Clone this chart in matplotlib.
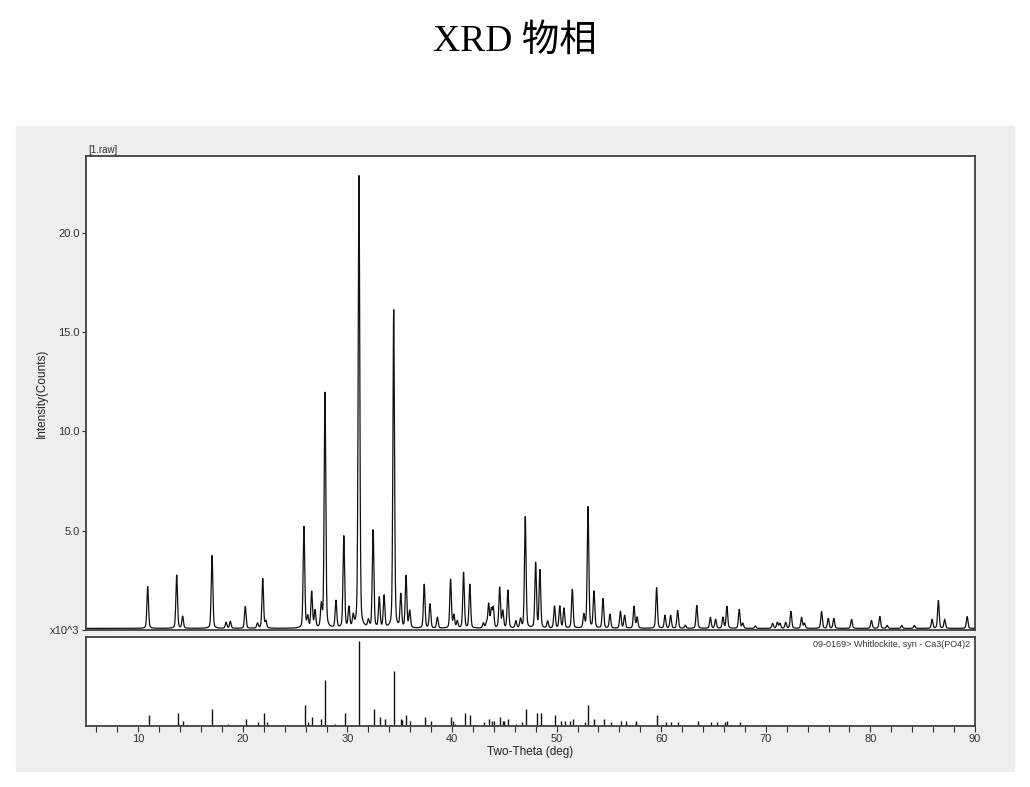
import numpy as np
import matplotlib
matplotlib.use("Agg")
import matplotlib.pyplot as plt
from matplotlib.patches import Rectangle
from matplotlib.ticker import MultipleLocator

plt.rcParams['font.family'] = ['Liberation Sans', 'DejaVu Sans']

# measured pattern: peak positions (2-theta) and peak heights (x10^3 counts)
peak_pos = [10.9, 13.67, 14.24, 17.05, 18.4, 18.8, 20.23, 21.4, 21.9, 22.2,
            25.84, 26.2, 26.58, 26.9, 27.5, 27.85, 28.9, 29.65, 30.14, 30.55,
            31.1, 32.0, 32.45, 33.04, 33.5, 34.42, 35.1, 35.6, 35.95, 37.34,
            37.89, 38.6, 39.86, 40.18, 40.5, 41.1, 41.7, 43.0, 43.3, 43.5,
            43.75, 43.94, 44.55, 44.85, 45.34, 46.1, 46.55, 47.0, 47.99, 48.4,
            49.14, 49.8, 50.3, 50.7, 51.5, 52.6, 53.0, 53.57, 54.43, 55.1,
            56.1, 56.5, 57.4, 57.7, 59.56, 60.36, 60.9, 61.57, 62.3, 63.4,
            64.7, 65.2, 65.9, 66.28, 67.46, 67.8, 69.0, 70.65, 71.1, 71.35,
            71.9, 72.4, 73.42, 73.7, 75.33, 75.97, 76.5, 78.2, 80.1, 80.9,
            81.6, 83.0, 84.2, 85.9, 86.5, 87.1, 89.25]
peak_height = [2.1, 2.7, 0.6, 3.7, 0.3, 0.35, 1.1, 0.25, 2.5, 0.35,
               5.1, 0.55, 1.8, 0.85, 1.1, 11.95, 1.35, 4.65, 1.0, 0.55,
               22.75, 0.35, 4.95, 1.5, 1.6, 16.0, 1.65, 2.6, 0.85, 2.2,
               1.22, 0.55, 2.45, 0.65, 0.35, 2.8, 2.2, 0.25, 0.25, 1.2,
               0.9, 1.0, 2.05, 0.85, 1.9, 0.35, 0.45, 5.6, 3.3, 2.9,
               0.35, 1.1, 1.1, 1.0, 1.95, 0.65, 6.1, 1.85, 1.5, 0.7,
               0.85, 0.65, 1.1, 0.55, 2.05, 0.65, 0.65, 0.9, 0.15, 1.15,
               0.55, 0.45, 0.55, 1.1, 0.95, 0.25, 0.12, 0.25, 0.3, 0.25,
               0.3, 0.85, 0.55, 0.25, 0.85, 0.5, 0.5, 0.45, 0.4, 0.6,
               0.15, 0.15, 0.15, 0.45, 1.4, 0.45, 0.6]
background = 0.08

# reference card 09-0169 Whitlockite: line positions and relative intensities
ref_pos = [11.0, 13.77, 14.27, 17.05, 18.57, 20.27, 21.45, 21.98, 22.3, 25.9,
           26.25, 26.6, 27.5, 27.85, 28.78, 29.73, 31.1, 32.5, 33.15, 33.6,
           34.45, 35.1, 35.2, 35.6, 36.0, 37.4, 37.95, 39.87, 40.1, 40.3,
           41.22, 41.7, 43.05, 43.56, 43.8, 43.97, 44.58, 44.84, 44.97, 45.37,
           46.07, 46.7, 47.06, 48.08, 48.53, 49.87, 50.41, 50.82, 51.27, 51.59,
           52.7, 52.99, 53.6, 54.5, 55.2, 56.2, 56.65, 57.55, 57.62, 59.6,
           60.42, 60.95, 61.65, 63.53, 64.8, 65.33, 66.1, 66.28, 67.5]
ref_int = [12.6, 15.7, 5.9, 20.5, 2.8, 8.3, 4.7, 15.7, 4.7, 24.8,
           4.7, 10.2, 8.3, 54.7, 2.8, 15.7, 100, 20.5, 10.2, 8.3,
           65, 7.9, 7.0, 12.6, 6.3, 10.2, 6.3, 10.2, 5.5, 2.8,
           15, 12.6, 4.7, 8.3, 6.3, 6.3, 10.2, 6.3, 5.5, 8.3,
           2.8, 4.7, 20.5, 15.7, 15, 12.6, 6.3, 6.3, 6.3, 8.3,
           4.7, 24.8, 8.3, 8.3, 4.7, 6.3, 6.3, 5.5, 4.7, 12.6,
           4.7, 4.7, 4.7, 6.3, 4.7, 4.7, 4.7, 6.3, 4.7]

two_theta = np.arange(5.0, 90.0, 0.02)
fwhm = 0.18
eta = 0.3
counts = np.full_like(two_theta, background)
for p, h in zip(peak_pos, peak_height):
    d = (two_theta - p) / fwhm
    g = np.exp(-4 * np.log(2) * d ** 2)
    l = 1 / (1 + 4 * d ** 2)
    counts += h * ((1 - eta) * g + eta * l)

W, H = 1030, 787
fig = plt.figure(figsize=(W / 100, H / 100), dpi=100)
fig.patches.append(Rectangle((16 / W, 1 - 771 / H), 998 / W, 645 / H,
                             transform=fig.transFigure, color='#eeeeee', zorder=-5))

fig.text(0.5, 1 - 41 / H, 'XRD 物相', ha='center', va='center', fontsize=27,
         family=['Liberation Serif', 'Noto Sans CJK SC'])

spine_c = '#404040'
ax1 = fig.add_axes([86 / W, 1 - 630 / H, 889 / W, 474 / H])
ax2 = fig.add_axes([86 / W, 1 - 726 / H, 889 / W, 89 / H])

ax1.plot(two_theta, counts, color='#111111', lw=0.9)
ax1.set_xlim(5, 90)
ax1.set_ylim(0, 23.85)
ax1.set_xticks([])
ax1.set_yticks([0, 5, 10, 15, 20])
ax1.set_yticklabels(['x10^3', '5.0', '10.0', '15.0', '20.0'])
ax1.tick_params(axis='y', direction='out', length=3, width=0.8, labelsize=8,
                color='#333333', labelcolor='#333333', pad=1.5)
ax1.set_ylabel('Intensity(Counts)', fontsize=8.5, color='#222222')
ax1.yaxis.set_label_coords(-38 / 889, 0.5)
ax1.text(0.003, 1.003, '[1.raw]', transform=ax1.transAxes, fontsize=7,
         color='#333333', va='bottom', ha='left')

ax2.vlines(ref_pos, 0, ref_int, color='#111111', lw=1.0)
ax2.set_xlim(5, 90)
ax2.set_ylim(0, 104.7)
ax2.set_yticks([])
ax2.xaxis.set_major_locator(MultipleLocator(10))
ax2.xaxis.set_minor_locator(MultipleLocator(2))
ax2.tick_params(axis='x', which='both', direction='out', length=4, width=0.8,
                color='#333333', labelsize=8, labelcolor='#333333', pad=2)
ax2.set_xlabel('Two-Theta (deg)', fontsize=8.5, color='#222222', labelpad=1)
ax2.text(0.995, 0.97, '09-0169> Whitlockite, syn - Ca3(PO4)2',
         transform=ax2.transAxes, fontsize=6.5, color='#333333',
         ha='right', va='top')

for ax in (ax1, ax2):
    for s in ax.spines.values():
        s.set_color(spine_c)
        s.set_linewidth(1.3)

fig.savefig('out.png', dpi=100)
